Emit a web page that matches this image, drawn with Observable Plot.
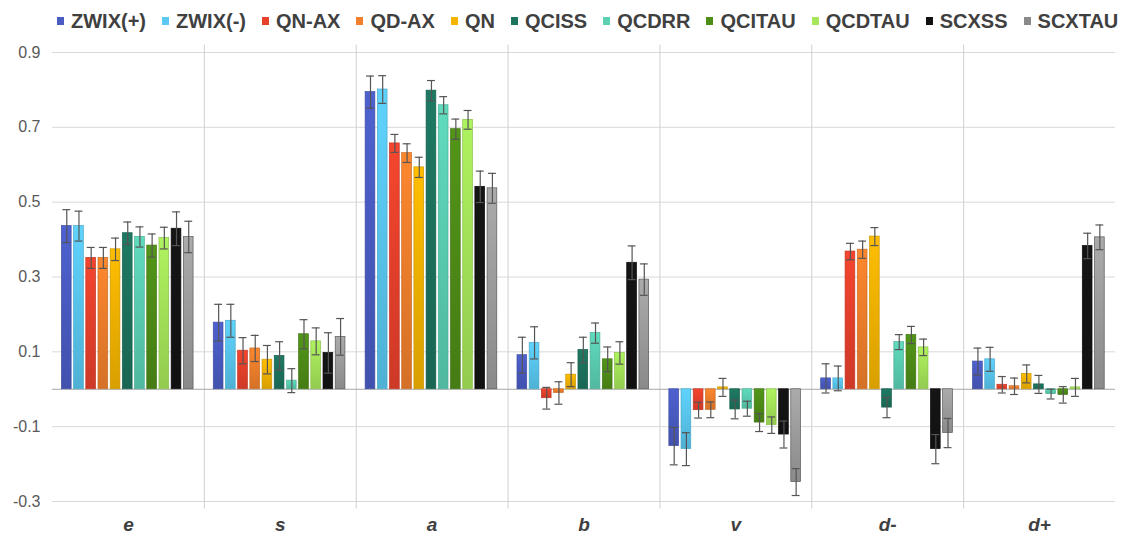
<!DOCTYPE html>
<html>
<head>
<meta charset="utf-8">
<script src="https://cdn.jsdelivr.net/npm/d3@7"></script>
<script src="https://cdn.jsdelivr.net/npm/@observablehq/plot@0.6"></script>
<style>
  body { margin: 0; background: #fff; font-family: "Liberation Sans", Arial, sans-serif; }
  #legend { box-sizing: border-box; height: 35px; padding-top: 7px; display: flex; align-items: center; padding-left: 57px; font-weight: bold; font-size: 20px; color: #404040; white-space: nowrap; }
  .item { display: flex; align-items: center; margin-right: 16px; }
  .sw { width: 7px; height: 8px; margin-right: 7px; }
</style>
</head>
<body>
<div id="legend"></div>
<div id="chart"></div>
<script>
// ---- data ----
const groups = ["e", "s", "a", "b", "v", "d-", "d+"];
const seriesNames = ["ZWIX(+)", "ZWIX(-)", "QN-AX", "QD-AX", "QN", "QCISS", "QCDRR", "QCITAU", "QCDTAU", "SCXSS", "SCXTAU"];
const seriesColors = ["#4a5cc4", "#5ac8f0", "#e8412c", "#f0802c", "#f5b400", "#1c735e", "#5bd0b3", "#4e8d17", "#a6e65a", "#111111", "#8a8a8a"];

const zwixPlus     = [0.436, 0.178, 0.794, 0.091, -0.152, 0.029, 0.074];
const zwixPlusErr  = [0.044, 0.049, 0.043, 0.048, 0.050, 0.039, 0.036];
const zwixMinus    = [0.436, 0.183, 0.801, 0.124, -0.160, 0.029, 0.080];
const zwixMinusErr = [0.040, 0.044, 0.037, 0.043, 0.044, 0.033, 0.032];
const qnAx         = [0.351, 0.103, 0.657, -0.024, -0.056, 0.368, 0.012];
const qnAxErr      = [0.028, 0.035, 0.024, 0.029, 0.021, 0.022, 0.022];
const qdAx         = [0.351, 0.109, 0.631, -0.010, -0.055, 0.373, 0.008];
const qdAxErr      = [0.028, 0.035, 0.025, 0.030, 0.021, 0.023, 0.022];
const qn           = [0.374, 0.079, 0.593, 0.039, 0.005, 0.408, 0.041];
const qnErr        = [0.030, 0.038, 0.027, 0.032, 0.024, 0.024, 0.024];
const qciss        = [0.417, 0.089, 0.798, 0.105, -0.054, -0.049, 0.013];
const qcissErr     = [0.030, 0.038, 0.027, 0.034, 0.025, 0.027, 0.024];
const qcdrr        = [0.407, 0.023, 0.759, 0.150, -0.052, 0.126, -0.013];
const qcdrrErr     = [0.027, 0.032, 0.023, 0.027, 0.020, 0.020, 0.013];
const qcitau       = [0.384, 0.147, 0.695, 0.080, -0.089, 0.145, -0.015];
const qcitauErr    = [0.031, 0.039, 0.027, 0.033, 0.024, 0.023, 0.022];
const qcdtau       = [0.404, 0.128, 0.720, 0.097, -0.096, 0.112, 0.005];
const qcdtauErr    = [0.029, 0.036, 0.025, 0.030, 0.022, 0.022, 0.024];
const scxss        = [0.429, 0.097, 0.541, 0.338, -0.121, -0.160, 0.383];
const scxssErr     = [0.045, 0.054, 0.042, 0.045, 0.036, 0.039, 0.034];
const scxtau       = [0.407, 0.140, 0.537, 0.293, -0.248, -0.117, 0.406];
const scxtauErr    = [0.042, 0.049, 0.040, 0.042, 0.036, 0.039, 0.033];

const yTicks = [-0.3, -0.1, 0.1, 0.3, 0.5, 0.7, 0.9];

const seriesValues = [zwixPlus, zwixMinus, qnAx, qdAx, qn, qciss, qcdrr, qcitau, qcdtau, scxss, scxtau];
const seriesErrors = [zwixPlusErr, zwixMinusErr, qnAxErr, qdAxErr, qnErr, qcissErr, qcdrrErr, qcitauErr, qcdtauErr, scxssErr, scxtauErr];

// ---- table ----
const rows = [];
groups.forEach((g, gi) => seriesNames.forEach((s, si) => {
  rows.push({group: g, gi, series: s, si, value: seriesValues[si][gi], err: seriesErrors[si][gi]});
}));

// layout within a group (in group units)
const PAD = 0.062, STEP = 0.0803, BW = 0.064, CAP = 0.026;
const bx1 = d => d.gi + PAD + d.si * STEP;
const bx2 = d => bx1(d) + BW;
const bc = d => bx1(d) + BW / 2;

// ---- legend ----
const legend = d3.select("#legend");
seriesNames.forEach((s, i) => {
  const it = legend.append("div").attr("class", "item");
  it.append("div").attr("class", "sw").style("background", seriesColors[i]);
  it.append("span").text(s);
});

// gradient defs
const defsMark = () => {
  const defs = d3.create("svg:defs");
  seriesColors.forEach((c, i) => {
    const g = defs.append("linearGradient").attr("id", "grad" + i)
      .attr("x1", 0).attr("y1", 0).attr("x2", 0).attr("y2", 1);
    const base = d3.color(c);
    g.append("stop").attr("offset", "0%").attr("stop-color", (i >= 9 ? base.brighter(0.6) : base.brighter(0.15)).formatHex());
    g.append("stop").attr("offset", "100%").attr("stop-color", (i >= 9 ? base : base.darker(0.35)).formatHex());
  });
  return defs.node();
};

const chart = Plot.plot({
  width: 1128,
  height: 498,
  marginTop: 9.5,
  marginBottom: 24.5,
  marginLeft: 52,
  marginRight: 13,
  style: {fontFamily: "'Liberation Sans', Arial, sans-serif", fontSize: "16px", color: "#595959", background: "#fff"},
  x: {domain: [0, groups.length]},
  y: {domain: [-0.32, 0.92]},
  color: {type: "identity"},
  marks: [
    defsMark,
    Plot.gridY(yTicks, {stroke: "#d9d9d9", strokeOpacity: 1}),
    Plot.ruleX(d3.range(1, groups.length), {stroke: "#d0d0d0", strokeWidth: 1}),
    Plot.ruleY([0], {stroke: "#a6a6a6", strokeWidth: 1.2}),
    Plot.rect(rows, {
      x1: bx1, x2: bx2, y1: 0, y2: "value",
      fill: d => `url(#grad${d.si})`,
      stroke: d => d3.color(seriesColors[d.si]).darker(d.si >= 9 ? 1.2 : 0.5).formatHex(),
      strokeWidth: 0.7
    }),
    Plot.ruleX(rows, {x: bc, y1: d => d.value - d.err, y2: d => d.value + d.err, stroke: "#555", strokeWidth: 1.2}),
    Plot.ruleY(rows, {y: d => d.value + d.err, x1: d => bc(d) - CAP, x2: d => bc(d) + CAP, stroke: "#555", strokeWidth: 1.2}),
    Plot.ruleY(rows, {y: d => d.value - d.err, x1: d => bc(d) - CAP, x2: d => bc(d) + CAP, stroke: "#555", strokeWidth: 1.2}),
    Plot.axisY({ticks: yTicks, tickSize: 0, tickPadding: 12, tickFormat: d => String(d), label: null, fill: "#595959"}),
    Plot.axisX({ticks: groups.map((g, i) => i + 0.5), tickSize: 0, tickPadding: 8, tickFormat: d => groups[Math.floor(d)], label: null,
      fontSize: 19, fontWeight: "bold", fontStyle: "italic", fill: "#404040"})
  ]
});
document.getElementById("chart").appendChild(chart);
</script>
</body>
</html>
